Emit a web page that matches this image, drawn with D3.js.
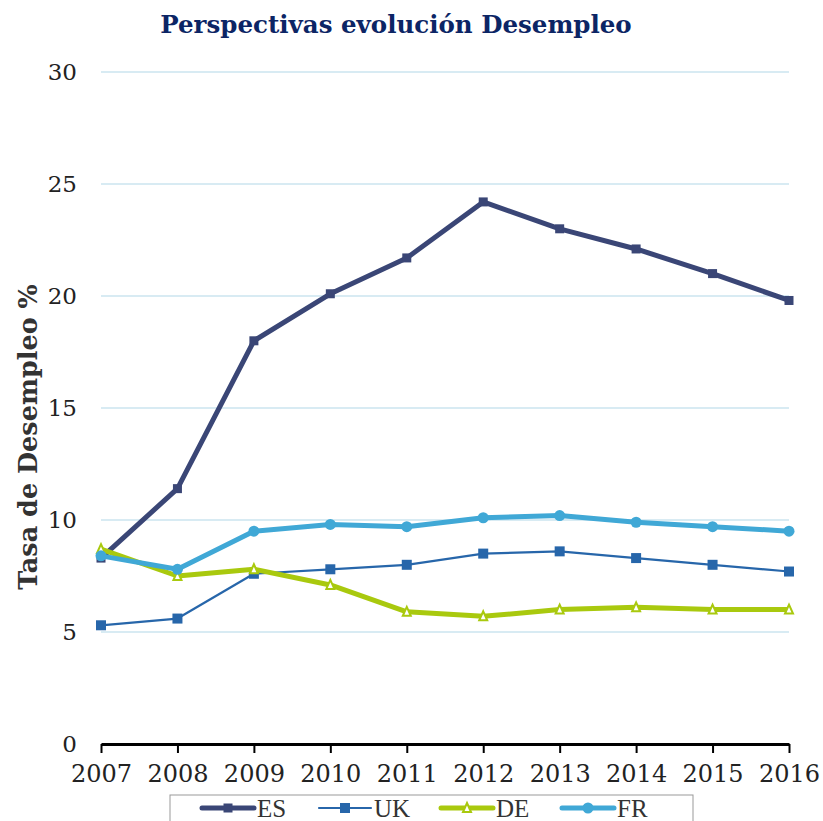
<!DOCTYPE html>
<html>
<head>
<meta charset="utf-8">
<script src="https://cdn.jsdelivr.net/npm/d3@7"></script>
<style>
  body { margin: 0; background: #fff; }
  svg { display: block; }
</style>
</head>
<body>
<div id="chart"></div>
<script>
var years = [2007, 2008, 2009, 2010, 2011, 2012, 2013, 2014, 2015, 2016];
var es = [8.3, 11.4, 18.0, 20.1, 21.7, 24.2, 23.0, 22.1, 21.0, 19.8];
var uk = [5.3, 5.6, 7.6, 7.8, 8.0, 8.5, 8.6, 8.3, 8.0, 7.7];
var de = [8.7, 7.5, 7.8, 7.1, 5.9, 5.7, 6.0, 6.1, 6.0, 6.0];
var fr = [8.4, 7.8, 9.5, 9.8, 9.7, 10.1, 10.2, 9.9, 9.7, 9.5];
var yTicks = [0, 5, 10, 15, 20, 25, 30];

var series = [
  {name: 'ES', values: es, color: '#3a4676', width: 5, marker: 'square', size: 9},
  {name: 'UK', values: uk, color: '#2766aa', width: 2.2, marker: 'square', size: 10},
  {name: 'DE', values: de, color: '#a9c90e', width: 5, marker: 'triangle', size: 8},
  {name: 'FR', values: fr, color: '#40a8d6', width: 5, marker: 'circle', size: 5.5}
];

var W = 823, H = 821;
var margin = {left: 101, right: 34, top: 72, bottom: 77};

var svg = d3.select('#chart').append('svg')
  .attr('width', W).attr('height', H);

var x = d3.scalePoint().domain(years).range([margin.left, W - margin.right]);
var y = d3.scaleLinear().domain([0, 30]).range([H - margin.bottom, margin.top]);

// grid
svg.selectAll('.grid').data(yTicks.filter(function(d){ return d > 0; }))
  .enter().append('line')
  .attr('x1', margin.left).attr('x2', W - margin.right)
  .attr('y1', function(d){ return y(d); }).attr('y2', function(d){ return y(d); })
  .attr('stroke', '#d8ebf3').attr('stroke-width', 2);

// y tick labels
svg.selectAll('.ylab').data(yTicks).enter().append('text')
  .attr('x', 77).attr('y', function(d){ return y(d) + 8; })
  .attr('text-anchor', 'end')
  .attr('font-family', 'DejaVu Serif, serif')
  .attr('font-size', 23)
  .attr('fill', '#222')
  .text(function(d){ return d; });

// x axis
var xAxis = svg.append('g')
  .attr('transform', 'translate(0,' + y(0) + ')')
  .call(d3.axisBottom(x).tickSize(9).tickSizeOuter(0).tickPadding(12));
xAxis.select('.domain').attr('stroke', '#000').attr('stroke-width', 3);
xAxis.selectAll('.tick line').attr('stroke', '#000').attr('stroke-width', 2);
xAxis.selectAll('.tick text')
  .attr('font-family', 'DejaVu Serif, serif')
  .attr('font-size', 24)
  .attr('fill', '#222');

// y axis title
svg.append('text')
  .attr('transform', 'translate(37,437) rotate(-90)')
  .attr('text-anchor', 'middle')
  .attr('font-family', 'DejaVu Serif, serif')
  .attr('font-weight', 'bold')
  .attr('font-size', 25.5)
  .attr('fill', '#333')
  .text('Tasa de Desempleo %');

// title
svg.append('text')
  .attr('x', 396).attr('y', 33)
  .attr('text-anchor', 'middle')
  .attr('font-family', 'DejaVu Serif, serif')
  .attr('font-weight', 'bold')
  .attr('font-size', 24.5)
  .attr('fill', '#0c2565')
  .text('Perspectivas evolución Desempleo');

var line = d3.line()
  .x(function(d, i){ return x(years[i]); })
  .y(function(d){ return y(d); });

function drawMarker(g, s, cx, cy) {
  if (s.marker === 'square') {
    g.append('rect')
      .attr('x', cx - s.size / 2).attr('y', cy - s.size / 2)
      .attr('width', s.size).attr('height', s.size)
      .attr('fill', s.color);
  } else if (s.marker === 'circle') {
    g.append('circle').attr('cx', cx).attr('cy', cy).attr('r', s.size)
      .attr('fill', s.color);
  } else {
    var h = s.size;
    g.append('path')
      .attr('d', 'M' + cx + ',' + (cy - h / 2 - 1) + 'L' + (cx + h / 2) + ',' + (cy + h / 2) +
                 'L' + (cx - h / 2) + ',' + (cy + h / 2) + 'Z')
      .attr('fill', '#fff').attr('stroke', s.color).attr('stroke-width', 2);
  }
}

series.forEach(function(s){
  var g = svg.append('g');
  g.append('path').datum(s.values)
    .attr('d', line)
    .attr('fill', 'none')
    .attr('stroke', s.color)
    .attr('stroke-width', s.width)
    .attr('stroke-linejoin', 'round');
  s.values.forEach(function(v, i){
    drawMarker(g, s, x(years[i]), y(v));
  });
});

// legend
var leg = svg.append('g');
leg.append('rect')
  .attr('x', 170).attr('y', 795).attr('width', 523).attr('height', 40)
  .attr('fill', '#fff').attr('stroke', '#999').attr('stroke-width', 1);
var legX = [202, 319, 441, 562];
series.forEach(function(s, i){
  var lx = legX[i], ly = 808;
  leg.append('line')
    .attr('x1', lx).attr('x2', lx + 52).attr('y1', ly).attr('y2', ly)
    .attr('stroke', s.color).attr('stroke-width', s.width).attr('stroke-linecap', 'round');
  drawMarker(leg, s, lx + 26, ly);
  leg.append('text')
    .attr('x', lx + 55).attr('y', ly + 9)
    .attr('font-family', 'Liberation Serif, serif')
    .attr('font-size', 25)
    .attr('fill', '#333')
    .text(s.name);
});
</script>
</body>
</html>
